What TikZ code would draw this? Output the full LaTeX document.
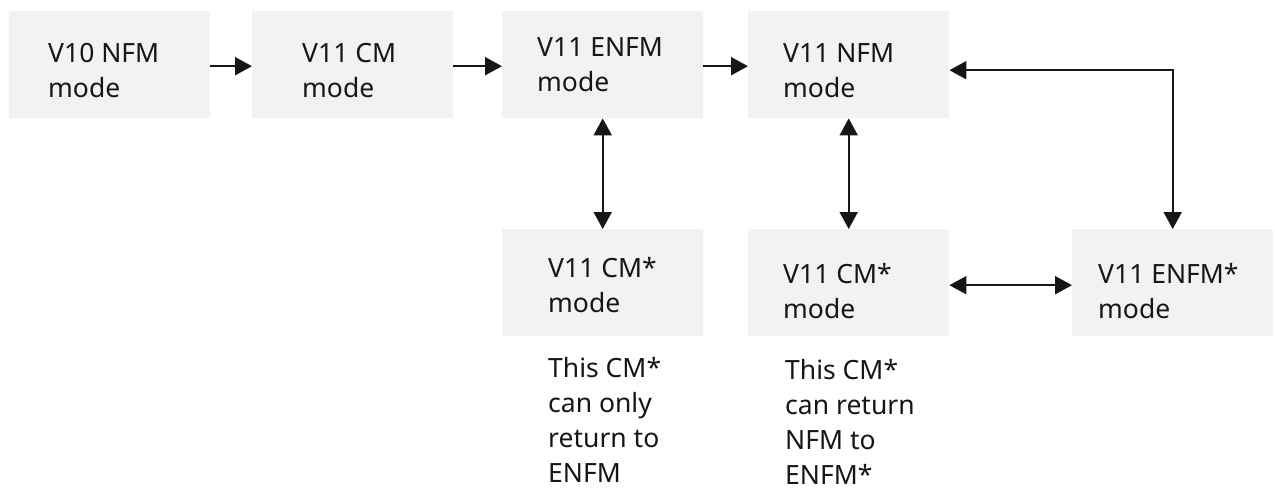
\documentclass[tikz,border=0pt]{standalone}
\usepackage{fontspec}
\setmainfont{Noto Sans}
\usetikzlibrary{arrows.meta,calc}
\definecolor{boxgray}{HTML}{F2F2F2}
\definecolor{ink}{HTML}{161616}
\begin{document}
\begin{tikzpicture}[x=1pt,y=-1pt,
  box/.style={fill=boxgray, draw=none, minimum width=201pt, minimum height=107pt, inner sep=0pt, anchor=north west},
  txt/.style={anchor=north west, inner sep=0pt, align=left, text=ink, font=\fontsize{26.5}{35}\selectfont},
  tip/.tip={Triangle[length=17pt,width=18pt]},
  conn/.style={line width=2pt, draw=ink, -tip},
  bi/.style={line width=2pt, draw=ink, tip-tip}]
\useasboundingbox (0,0) rectangle (1275,491);
% boxes
\node[box] (b1) at (9,11) {};
\node[box] (b2) at (252,11) {};
\node[box] (b3) at (502,11) {};
\node[box] (b4) at (748,11) {};
\node[box] (b5) at (502,229) {};
\node[box] (b6) at (748,229) {};
\node[box] (b7) at (1072,229) {};
% box texts
\node[txt] (t1) at (48,43) {V10 NFM\\mode};
\node[txt] (t2) at (302,43) {V11 CM\\mode};
\node[txt] (t3) at (537,37) {V11 ENFM\\mode};
\node[txt] (t4) at (783,43) {V11 NFM\\mode};
\node[txt] (t5) at (548,257) {V11 CM*\\mode};
\node[txt] (t6) at (783,263) {V11 CM*\\mode};
\node[txt] (t7) at (1098,263) {V11 ENFM*\\mode};
% notes
\node[txt] (n1) at (548,357) {This CM*\\can only\\return to\\ENFM};
\node[txt] (n2) at (785,359) {This CM*\\can return\\NFM to\\ENFM*};
% connectors
\draw[conn] ([yshift=-1.5pt]b1.east) -- ([yshift=-1.5pt]b2.west);
\draw[conn] ([yshift=-1.5pt]b2.east) -- ([yshift=-1.5pt]b3.west);
\draw[conn] ([yshift=-1.5pt]b3.east) -- ([yshift=-1.5pt]b4.west);
\draw[bi] ([yshift=-5.5pt]b4.east) -| (b7.north);
\draw[bi] (b3.south) -- (b5.north);
\draw[bi] (b4.south) -- (b6.north);
\draw[bi] ([yshift=-2.5pt]b6.east) -- ([yshift=-2.5pt]b7.west);
\end{tikzpicture}
\end{document}
